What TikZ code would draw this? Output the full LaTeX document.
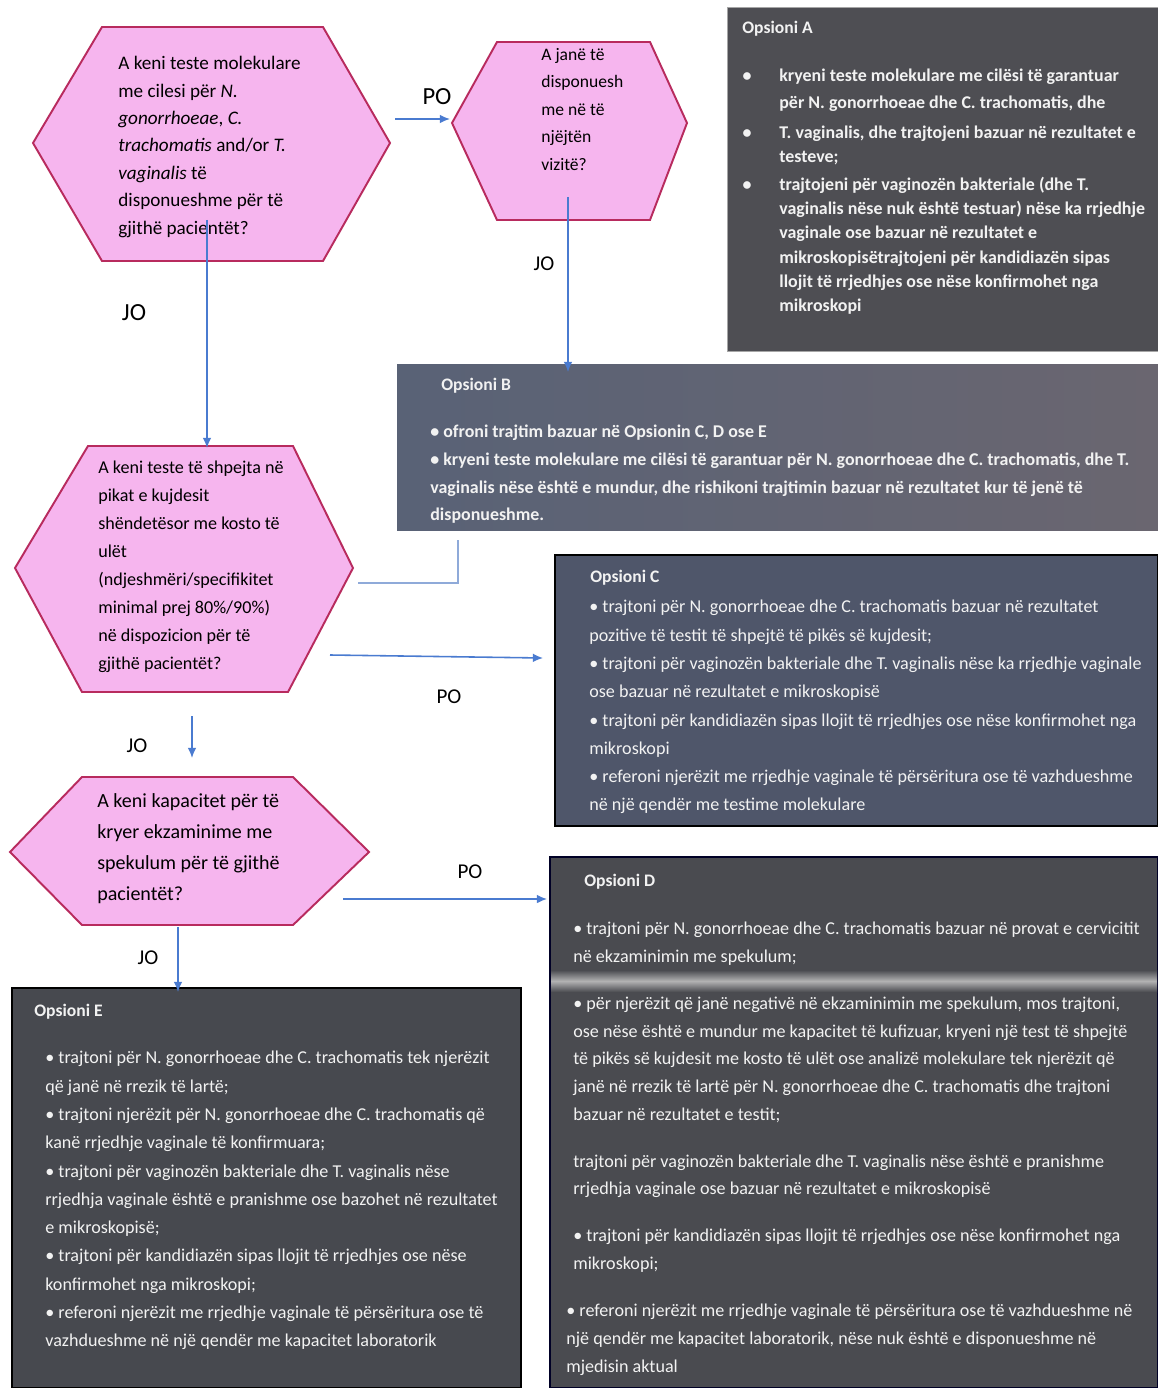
\documentclass[tikz,border=0pt]{standalone}
\usepackage{fontspec}
\setmainfont{Carlito}
\usetikzlibrary{arrows.meta,calc,fit}

\definecolor{hexfill}{HTML}{F6B5EE}
\definecolor{hexline}{HTML}{B82B5E}
\definecolor{flow}{HTML}{4A7BD0}
\definecolor{flowlight}{HTML}{8FAAD9}
\definecolor{boxtext}{HTML}{F2F2F2}
\definecolor{optAcol}{HTML}{4E4E53}
\definecolor{optBleft}{HTML}{596276}
\definecolor{optBright}{HTML}{6A6670}
\definecolor{optCcol}{HTML}{4F566A}
\definecolor{optDcol}{HTML}{4A4B50}
\definecolor{optEcol}{HTML}{47494F}

\tikzset{
  hexa/.style={draw=hexline, fill=hexfill, line width=1.1pt, line join=miter},
  hextext/.style={anchor=north west, inner sep=0pt, align=left, text=black,
    font=\fontsize{10}{15.6}\selectfont},
  boxtitle/.style={anchor=north west, inner sep=0pt, text=boxtext,
    font=\bfseries\fontsize{10}{12}\selectfont},
  boxbody/.style={anchor=north west, inner sep=0pt, align=left, text=boxtext,
    font=\fontsize{10.3}{16.1}\selectfont},
  optbox/.style={inner sep=0pt, line width=1.1pt},
  flowarrow/.style={draw=flow, line width=0.9pt, -{Latex[length=5.8pt,width=5pt]}},
  answer/.style={inner sep=0pt, font=\fontsize{12}{14}\selectfont},
  answerbig/.style={inner sep=0pt, font=\fontsize{14}{16}\selectfont},
}

\begin{document}
\begin{tikzpicture}[x=0.02cm,y=-0.02cm]
\useasboundingbox (0,0) rectangle (1158,1388);
\fill[white] (0,0) rectangle (1158,1388);

% ---------- option boxes ----------
\node[optbox, fill=optAcol, draw=gray!70, line width=0.5pt, fit={(727,7) (1158,351)}] (optA) {};
\node[optbox, left color=optBleft, right color=optBright, fit={(397,365) (1158,530)}] (optB) {};
\node[optbox, fill=optCcol, draw=black, fit={(555,555) (1158,826)}] (optC) {};
\node[optbox, fill=optDcol, draw=black!85!blue, fit={(550,857) (1158,1388)}] (optD) {};
\node[optbox, fill=optEcol, draw=black, fit={(12,988) (521,1388)}] (optE) {};
% light streak across option D
\shade[top color=optDcol, bottom color=optDcol, middle color=gray!60] (551,970) rectangle (1157,992);

% ---------- decision hexagons ----------
\draw[hexa] (33,143) -- (102,27) -- (323,27) -- (390,143) -- (323,261) -- (102,261) -- cycle;
\draw[hexa] (452,123) -- (497,42) -- (650,42) -- (687,123) -- (650,220) -- (497,220) -- cycle;
\draw[hexa] (15,568) -- (88,446) -- (293,446) -- (353,568) -- (288,692) -- (82,692) -- cycle;
\draw[hexa] (10,852) -- (82,777) -- (293,777) -- (369,852) -- (293,925) -- (82,925) -- cycle;

\node[hextext, font=\fontsize{10.9}{15.6}\selectfont] (q1) at (118,56) {A keni teste molekulare\\
me cilesi për \textit{N.}\\
\textit{gonorrhoeae}, \textit{C.}\\
\textit{trachomatis} and/or \textit{T.}\\
\textit{vaginalis} të\\
disponueshme për të\\
gjithë pacientët?};

\node[hextext] (q2) at (541,48) {A janë të\\ disponuesh\\ me në të\\ njëjtën\\ vizitë?};

\node[hextext, font=\fontsize{10.3}{15.9}\selectfont] (q3) at (98,461) {A keni teste të shpejta në\\
pikat e kujdesit\\
shëndetësor me kosto të\\
ulët\\
(ndjeshmëri/specifikitet\\
minimal prej 80\%/90\%)\\
në dispozicion për të\\
gjithë pacientët?};

\node[hextext, font=\fontsize{11.4}{17.6}\selectfont] (q4) at (97,793) {A keni kapacitet për të\\
kryer ekzaminime me\\
spekulum për të gjithë\\
pacientët?};

% ---------- option texts ----------
\node[boxtitle] (tA) at (742,21) {Opsioni A};
\node[boxbody, font=\bfseries\fontsize{10.2}{13.7}\selectfont] (bA) at (779,69) {%
\llap{•\hspace{15.8pt}}kryeni teste molekulare me cilësi të garantuar\\[1.6pt]
për N. gonorrhoeae dhe C. trachomatis, dhe\\[3.4pt]
\llap{•\hspace{15.8pt}}T. vaginalis, dhe trajtojeni bazuar në rezultatet e\\
testeve;\\[2.2pt]
\llap{•\hspace{15.8pt}}trajtojeni për vaginozën bakteriale (dhe T.\\
vaginalis nëse nuk është testuar) nëse ka rrjedhje\\
vaginale ose bazuar në rezultatet e\\
mikroskopisëtrajtojeni për kandidiazën sipas\\
llojit të rrjedhjes ose nëse konfirmohet nga\\
mikroskopi};

\node[boxtitle] (tB) at (441,378) {Opsioni B};
\node[boxbody, font=\bfseries\fontsize{10.2}{15.7}\selectfont] (bB) at (430,425) {%
• ofroni trajtim bazuar në Opsionin C, D ose E\\
• kryeni teste molekulare me cilësi të garantuar për N. gonorrhoeae dhe C. trachomatis, dhe T.\\
vaginalis nëse është e mundur, dhe rishikoni trajtimin bazuar në rezultatet kur të jenë të\\
disponueshme.};

\node[boxtitle] (tC) at (590,570) {Opsioni C};
\node[boxbody] (bC) at (589,600) {%
• trajtoni për N. gonorrhoeae dhe C. trachomatis bazuar në rezultatet\\
pozitive të testit të shpejtë të pikës së kujdesit;\\
• trajtoni për vaginozën bakteriale dhe T. vaginalis nëse ka rrjedhje vaginale\\
ose bazuar në rezultatet e mikroskopisë\\
• trajtoni për kandidiazën sipas llojit të rrjedhjes ose nëse konfirmohet nga\\
mikroskopi\\
• referoni njerëzit me rrjedhje vaginale të përsëritura ose të vazhdueshme\\
në një qendër me testime molekulare};

\node[boxtitle] (tD) at (584,874) {Opsioni D};
\node[boxbody, font=\fontsize{10.3}{15.8}\selectfont] (bD) at (573,922) {%
• trajtoni për N. gonorrhoeae dhe C. trachomatis bazuar në provat e cervicitit\\
në ekzaminimin me spekulum;\\[10.8pt]
• për njerëzit që janë negativë në ekzaminimin me spekulum, mos trajtoni,\\
ose nëse është e mundur me kapacitet të kufizuar, kryeni një test të shpejtë\\
të pikës së kujdesit me kosto të ulët ose analizë molekulare tek njerëzit që\\
janë në rrezik të lartë për N. gonorrhoeae dhe C. trachomatis dhe trajtoni\\
bazuar në rezultatet e testit;\\[10.8pt]
trajtoni për vaginozën bakteriale dhe T. vaginalis nëse është e pranishme\\
rrjedhja vaginale ose bazuar në rezultatet e mikroskopisë\\[10.8pt]
• trajtoni për kandidiazën sipas llojit të rrjedhjes ose nëse konfirmohet nga\\
mikroskopi;};
\node[boxbody, font=\fontsize{10.3}{15.8}\selectfont] (bD2) at (566,1304) {%
• referoni njerëzit me rrjedhje vaginale të përsëritura ose të vazhdueshme në\\
një qendër me kapacitet laboratorik, nëse nuk është e disponueshme në\\
mjedisin aktual};

\node[boxtitle] (tE) at (34,1004) {Opsioni E};
\node[boxbody] (bE) at (45,1051) {%
• trajtoni për N. gonorrhoeae dhe C. trachomatis tek njerëzit\\
që janë në rrezik të lartë;\\
• trajtoni njerëzit për N. gonorrhoeae dhe C. trachomatis që\\
kanë rrjedhje vaginale të konfirmuara;\\
• trajtoni për vaginozën bakteriale dhe T. vaginalis nëse\\
rrjedhja vaginale është e pranishme ose bazohet në rezultatet\\
e mikroskopisë;\\
• trajtoni për kandidiazën sipas llojit të rrjedhjes ose nëse\\
konfirmohet nga mikroskopi;\\
• referoni njerëzit me rrjedhje vaginale të përsëritura ose të\\
vazhdueshme në një qendër me kapacitet laboratorik};

% ---------- connectors ----------
\coordinate (q1yes) at (395,119);
\coordinate (q2in)  at (450,119);
\coordinate (q2no)  at (568,197);
\coordinate (q1no)  at (207,220);
\coordinate (q3in)  at (207,448);
\coordinate (bfoot) at (458,540);
\coordinate (q3tie) at (358,583);
\coordinate (q3yes) at (330,655);
\coordinate (cin)   at (543,658);
\coordinate (q3no)  at (192,716);
\coordinate (q4in)  at (192,758);
\coordinate (q4yes) at (343,899);
\coordinate (q4no)  at (178,927);

\draw[flowarrow] (q1yes) -- (q2in);
\draw[flowarrow] (q2no) -- ([yshift=-8*0.02cm]q2no |- optB.north);
\draw[flowarrow] (q1no) -- (q3in);
\draw[draw=flowlight, line width=0.8pt] (bfoot) |- (q3tie);
\draw[flowarrow] (q3yes) -- (cin);
\draw[flowarrow] (q3no) -- (q4in);
\draw[flowarrow] (q4yes) -- ([xshift=-2*0.02cm]q4yes -| optD.west);
\draw[flowarrow] (q4no) -- ([yshift=-5*0.02cm]q4no |- optE.north);

% ---------- answer labels ----------
\node[answerbig] (lq1yes) at (437,97) {PO};
\node[answerbig] (lq1no)  at (134,313) {JO};
\node[answer]    (lq2no)  at (544,264) {JO};
\node[answer]    (lq3yes) at (449,697) {PO};
\node[answer]    (lq3no)  at (137,746) {JO};
\node[answer]    (lq4yes) at (470,872) {PO};
\node[answer]    (lq4no)  at (148,958) {JO};
\end{tikzpicture}
\end{document}
